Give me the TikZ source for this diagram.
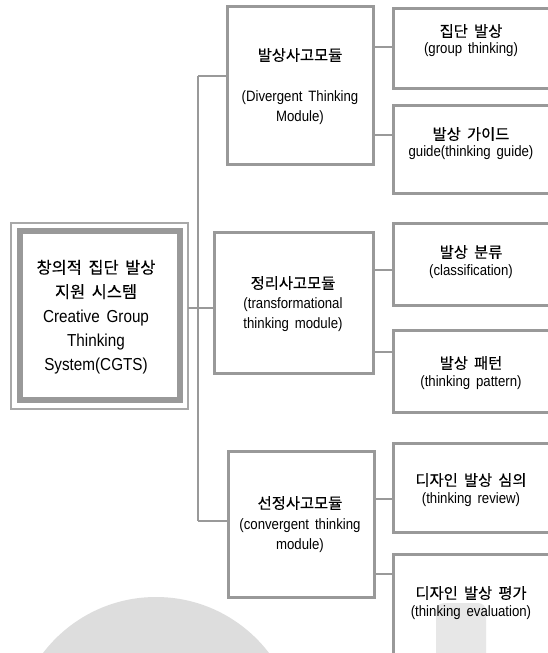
\documentclass[tikz,border=0pt]{standalone}
\usepackage{fontspec}
\setmainfont{Liberation Sans}[FakeStretch=0.88,WordSpace=1.6]
\newfontfamily\kr{Noto Sans CJK KR}[FakeBold=0.3,WordSpace=1.8]
\definecolor{linegray}{RGB}{153,153,153}
\definecolor{markgray}{RGB}{221,221,221}
\def\px{0.75pt}
\tikzset{
  modbox/.style={draw=linegray, line width=2.25pt, inner sep=0pt, outer sep=0pt, anchor=north west},
  link/.style={draw=linegray, line width=1.5pt},
  krtitle/.style={font=\kr\fontsize{11.5}{13}\selectfont, inner sep=0pt},
  entext/.style={font=\fontsize{11.25}{15}\selectfont, align=center, inner sep=0pt}
}
\begin{document}
\begin{tikzpicture}[x=0.75pt,y=-0.75pt]
	\useasboundingbox (0,0) rectangle (548,653);
	\clip (0,0) rectangle (548,653);
	\fill[white] (0,0) rectangle (548,653);
	\fill[markgray] (156,739) circle [radius=142];
	\fill[markgray!70, rounded corners=6] (436,603) rectangle (486,665);

	\node[modbox, draw=linegray!85, line width=1.2pt, minimum width=177*\px, minimum height=186*\px] (frame) at (11,223) {};
	\node[modbox, line width=4.5pt, minimum width=160*\px, minimum height=169*\px] (cgts) at (20,231) {};
	\node[entext, font=\fontsize{13}{18.2}\selectfont] (cgtstext) at (96,317)
		{{\kr\fontsize{12.3}{13}\selectfont 창의적 집단 발상}\\{\kr\fontsize{12.3}{13}\selectfont 지원 시스템}\\Creative Group\\Thinking\\System(CGTS)};

	\node[modbox, minimum width=146*\px, minimum height=158*\px] (b1) at (227,6) {};
	\node[modbox, minimum width=159*\px, minimum height=141*\px] (b2) at (214,232) {};
	\node[modbox, minimum width=146*\px, minimum height=146*\px] (b3) at (228,451) {};
	\node[krtitle] (b1t) at (300,55) {발상사고모듈};
	\node[entext] (b1e) at (300,108) {(Divergent Thinking\\Module)};
	\node[krtitle] (b2t) at (293,283) {정리사고모듈};
	\node[entext] (b2e) at (293,314.5) {(transformational\\thinking module)};
	\node[krtitle] (b3t) at (300,503) {선정사고모듈};
	\node[entext] (b3e) at (300,535.5) {(convergent thinking\\module)};

	\foreach \n/\top/\h in {r1/8/80, r2/105/88, r3/223/82, r4/330/82, r5/443/89, r6/554/110}
		\node[modbox, minimum width=170*\px, minimum height=\h*\px] (\n) at (393,\top) {};
	\foreach \n/\ya/\yb/\ka/\eb in {r1/31/50/집단 발상/(group thinking), r2/134/153/발상 가이드/guide(thinking guide),
		r3/252/272/발상 분류/(classification), r4/363/383/발상 패턴/(thinking pattern),
		r5/480/500/디자인 발상 심의/(thinking review), r6/593/613/디자인 발상 평가/(thinking evaluation)}
	{
		\node[krtitle] (\n t) at (471,\ya) {\ka};
		\node[entext] (\n e) at (471,\yb) {\eb};
	}

	\coordinate (top) at (198,76);
	\coordinate (mid) at (198,308);
	\coordinate (bot) at (198,521);
	\draw[link] (top) -- (bot);
	\draw[link] (mid) -- (mid -| frame.east);
	\draw[link] (top) -- (top -| b1.west);
	\draw[link] (mid) -- (mid -| b2.west);
	\draw[link] (bot) -- (bot -| b3.west);
	\foreach \n/\m/\y in {r1/b1/47, r2/b1/135, r3/b2/270, r4/b2/352, r5/b3/499, r6/b3/574}
		\draw[link] (\m.east |- 0,\y) -- (\n.west |- 0,\y);
\end{tikzpicture}
\end{document}
